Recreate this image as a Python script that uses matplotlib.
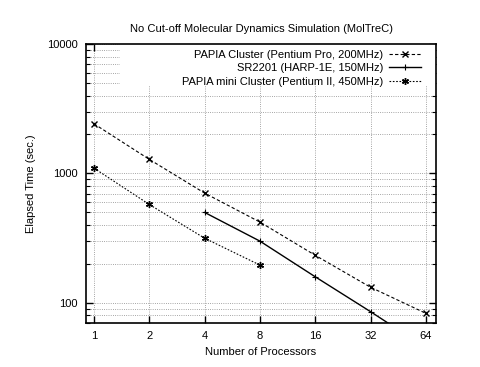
import matplotlib
matplotlib.use("Agg")
import matplotlib.pyplot as plt
from matplotlib.patches import Rectangle
from matplotlib.ticker import FixedLocator, NullFormatter, LogLocator

plt.rcParams['font.family'] = ['Liberation Sans', 'DejaVu Sans']

procs = [1, 2, 4, 8, 16, 32, 64]
papia_x = [1, 2, 4, 8, 16, 32, 64]
papia_y = [2420, 1285, 705, 421, 233, 132, 83]
sr_x = [4, 8, 16, 32, 64]
sr_y = [500, 300, 159, 85.5, 45]
mini_x = [1, 2, 4, 8]
mini_y = [1100, 576, 316, 196]
labels = ["PAPIA Cluster (Pentium Pro, 200MHz)",
          "SR2201 (HARP-1E, 150MHz)",
          "PAPIA mini Cluster (Pentium II, 450MHz)"]
title = "No Cut-off Molecular Dynamics Simulation (MolTreC)"
xlabel = "Number of Processors"
ylabel = "Elapsed Time (sec.)"

fig = plt.figure(figsize=(4.8, 3.67), dpi=100)
ax = fig.add_axes([86/480, 1-323/367, 350/480, 279/367])
ax.set_xscale('log', base=2)
ax.set_yscale('log')
ax.set_xlim(0.905, 72.5)
ax.set_ylim(70, 10000)

l1, = ax.plot(papia_x, papia_y, color='black', lw=0.8, ls=(0, (3, 2)),
              marker='x', ms=5, mew=1.0, zorder=3)
l2, = ax.plot(sr_x, sr_y, color='black', lw=1.0, ls='-',
              marker='+', ms=5, mew=0.8, zorder=3)
l3, = ax.plot(mini_x, mini_y, color='black', lw=0.8, ls=(0, (1.5, 1.5)),
              marker=(6, 2, 0), ms=5, mew=1.0, zorder=3)

ax.xaxis.set_major_locator(FixedLocator(procs))
ax.set_xticklabels([str(p) for p in procs])
ax.xaxis.set_minor_locator(FixedLocator([]))
ax.yaxis.set_major_locator(FixedLocator([100, 1000, 10000]))
ax.set_yticklabels(['100', '1000', '10000'])
ax.yaxis.set_minor_locator(LogLocator(base=10, subs=range(2, 10)))
ax.yaxis.set_minor_formatter(NullFormatter())

ax.tick_params(which='both', direction='in', top=True, right=True,
               labelsize=8, color='black')
ax.tick_params(which='major', length=5, width=1.0, pad=6)
ax.tick_params(which='minor', length=3, width=0.8)

ax.grid(True, which='major', axis='both', color='#888888', ls=':', lw=0.6)
ax.grid(True, which='minor', axis='y', color='#888888', ls=':', lw=0.6)
ax.set_axisbelow(True)
for s in ax.spines.values():
    s.set_linewidth(1.2)

# white key area that hides the grid behind the legend
ax.add_patch(Rectangle(((120-86)/350, (323-85)/279), 1, 1,
                       transform=ax.transAxes, facecolor='white',
                       edgecolor='none', zorder=1.5, clip_on=True))

ax.set_title(title, fontsize=8, pad=9)
ax.set_xlabel(xlabel, fontsize=8, labelpad=4)
ax.set_ylabel(ylabel, fontsize=8, labelpad=8)

leg = ax.legend([l1, l2, l3], labels, loc='upper right', markerfirst=False,
                fontsize=8, frameon=False, handlelength=2.9,
                borderaxespad=0.0, labelspacing=0.32, handletextpad=0.5,
                borderpad=0.3, bbox_to_anchor=(0.966, 0.992))
for t in leg.get_texts():
    t.set_ha('right')
leg._legend_box.align = 'right'

fig.savefig('out.png', dpi=100)
